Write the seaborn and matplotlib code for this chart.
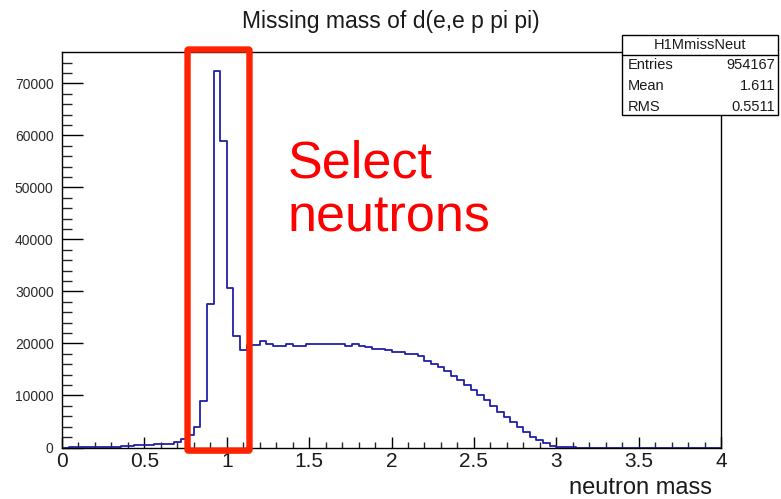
import numpy as np
import pandas as pd
import matplotlib
matplotlib.use("Agg")
import matplotlib.pyplot as plt
from matplotlib.patches import Rectangle, FancyBboxPatch
from matplotlib.ticker import MultipleLocator
import seaborn as sns

# ---------------- data ----------------
bin_edges = [round(0.04 * i, 2) for i in range(101)]
counts = [0, 150, 160, 150, 170, 160, 180, 170, 190, 200,
          210, 420, 430, 450, 700, 720, 750, 1150, 1700, 2450,
          4010, 8960, 27600, 72310, 58820, 30600, 21350, 18660, 19700, 19700,
          20530, 19950, 19560, 19560, 19890, 19560, 19560, 19900, 19900, 19900,
          19900, 19900, 19900, 19560, 19890, 19430, 19230, 18930, 18930, 18660,
          18350, 18350, 17960, 17960, 17500, 16540, 16040, 15460, 14610, 13780,
          13010, 12050, 11080, 10120, 9150, 8000, 6900, 5940, 4860, 4010,
          3050, 2080, 1450, 810, 290, 100, 60, 30, 0, 0,
          0, 0, 0, 0, 0, 0, 0, 0, 0, 0,
          0, 0, 0, 0, 0, 0, 0, 0, 0, 0]
x_ticks = [0, 0.5, 1, 1.5, 2, 2.5, 3, 3.5, 4]
x_tick_labels = ["0", "0.5", "1", "1.5", "2", "2.5", "3", "3.5", "4"]
y_ticks = [0, 10000, 20000, 30000, 40000, 50000, 60000, 70000]
y_tick_labels = ["0", "10000", "20000", "30000", "40000", "50000", "60000", "70000"]
stats_name = "H1MmissNeut"
stats_rows = [("Entries", "954167"), ("Mean", "1.611"), ("RMS", "0.5511")]
title = "Missing mass of d(e,e p pi pi)"
xlabel = "neutron mass"
note_lines = ["Select", "neutrons"]
select_range = (0.762, 1.138)

edges_arr = np.array(bin_edges)
centers = 0.5 * (edges_arr[:-1] + edges_arr[1:])
df = pd.DataFrame({"mass": centers, "n": counts})

# ---------------- style ----------------
sns.set_theme(style="white")
plt.rcParams["font.family"] = ["Liberation Sans", "DejaVu Sans"]

W, H = 781, 499
fig = plt.figure(figsize=(W / 100, H / 100), dpi=100)
fig.patch.set_facecolor("white")

def fx(px):
    return px / W

def fy(py):
    return 1 - py / H

L, R, T, B = 62, 721, 52.5, 447.5
ax = fig.add_axes([fx(L), fy(B), fx(R) - fx(L), fy(T) - fy(B)])
ax.set_facecolor("white")

sns.histplot(data=df, x="mass", weights="n", bins=bin_edges, element="step",
             fill=False, color="#2020a8", linewidth=1.3, ax=ax, legend=False)

ax.set_xlim(0, 4)
ax.set_ylim(0, max(counts) * 1.05)
ax.set_xlabel("")
ax.set_ylabel("")

for s in ax.spines.values():
    s.set_color("black")
    s.set_linewidth(1.0)
    s.set_visible(True)

ax.set_xticks(x_ticks)
ax.set_xticklabels(x_tick_labels)
ax.set_yticks(y_ticks)
ax.set_yticklabels(y_tick_labels)
ax.xaxis.set_minor_locator(MultipleLocator(0.1))
ax.yaxis.set_minor_locator(MultipleLocator(2000))
ax.tick_params(axis="x", which="major", direction="in", length=8, width=1,
               labelsize=15, pad=3.5, colors="black", labelcolor="#1a1a1a",
               bottom=True, top=False)
ax.tick_params(axis="x", which="minor", direction="in", length=4, width=1,
               bottom=True, top=False)
ax.tick_params(axis="y", which="major", direction="in", length=15, width=1,
               labelsize=10, pad=6, colors="black", labelcolor="#2a2a2a",
               left=True, right=False)
ax.tick_params(axis="y", which="minor", direction="in", length=7, width=1,
               left=True, right=False)
ax.grid(False)

# red selection box
rect = FancyBboxPatch((select_range[0], -600), select_range[1] - select_range[0],
                      76500 + 600, boxstyle="round,pad=0,rounding_size=0.006",
                      mutation_aspect=1.0 / 0.00003,
                      transform=ax.transData, fill=False, edgecolor="#ff2200",
                      linewidth=4.6, clip_on=False, zorder=10)
ax.add_patch(rect)

# title and x label
fig.text(fx(391), fy(28), title, ha="center", va="baseline", fontsize=16.5,
         color="#1a1a1a")
fig.text(fx(712), fy(494), xlabel, ha="right", va="baseline", fontsize=17,
         color="#1a1a1a")

# note text
fig.text(fx(288), fy(177), note_lines[0], ha="left", va="baseline",
         fontsize=37.5, color="#ff0000")
fig.text(fx(288), fy(232), note_lines[1], ha="left", va="baseline",
         fontsize=37.5, color="#ff0000")

# stats box
bx0, by0, bx1, by1 = 622, 35, 778, 115
fig.patches.append(Rectangle((fx(bx0), fy(by1)), fx(bx1) - fx(bx0), fy(by0) - fy(by1),
                             transform=fig.transFigure, facecolor="white",
                             edgecolor="black", linewidth=1.0, zorder=20))
fig.lines.append(plt.Line2D([fx(bx0), fx(bx1)], [fy(55), fy(55)],
                            transform=fig.transFigure, color="black",
                            linewidth=1.0, zorder=21))
fig.text(fx(700), fy(45), stats_name, ha="center", va="center", fontsize=10.5,
         color="#1a1a1a", zorder=22)
for i, (k, v) in enumerate(stats_rows):
    yy = 65 + i * 21
    fig.text(fx(628), fy(yy), k, ha="left", va="center", fontsize=10.5,
             color="#1a1a1a", zorder=22)
    fig.text(fx(775), fy(yy), v, ha="right", va="center", fontsize=10.5,
             color="#1a1a1a", zorder=22)

fig.savefig("out.png", dpi=100)
